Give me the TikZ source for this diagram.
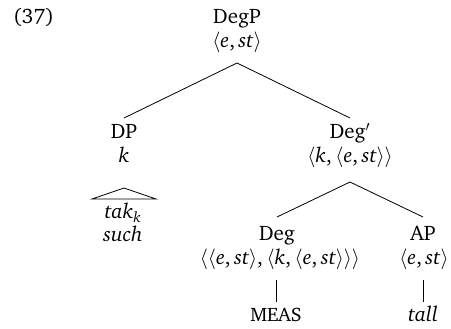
\documentclass[tikz,border=0pt]{standalone}
\usepackage[T1]{fontenc}
\usepackage{charter}
\newcommand\la{$\langle$}
\newcommand\ra{$\rangle$}
\begin{document}
\begin{tikzpicture}[x=1pt,y=-1pt,
  every node/.style={font=\fontsize{21}{25}\selectfont},
  lab/.style={anchor=base,inner sep=0pt},
  edge/.style={line width=0.8pt},
  meas/.style={lab,font=\fontsize{19.5}{23}\selectfont}]
\useasboundingbox (0,0) rectangle (451,329);
\node[anchor=base west,inner sep=0pt] (ex) at (13,24) {(37)};
\node[lab] (degp) at (237,24) {DegP};
\node[lab] (degpt) at (237,48) {\la\textit{e},\,\textit{st}\ra};
\node[lab] (dp) at (124,139) {DP};
\node[lab] (dpt) at (124,163) {\textit{k}};
\node[lab] (tak) at (123,219) {\textit{tak\textsubscript{k}}};
\node[lab] (such) at (123,242) {\textit{such}};
\node[lab] (degbar) at (350,139) {Deg$'$};
\node[lab] (degbart) at (350,163) {\la\textit{k},\,\la\textit{e},\,\textit{st}\ra\ra};
\node[lab] (deg) at (277,241) {Deg};
\node[lab] (degt) at (280,265) {\la\la\textit{e},\,\textit{st}\ra,\,\la\textit{k},\,\la\textit{e},\,\textit{st}\ra\ra\ra};
\node[lab] (ap) at (423,241) {AP};
\node[lab] (apt) at (424,265) {\la\textit{e},\,\textit{st}\ra};
\node[meas] (meas) at (276,322) {MEAS};
\node[lab] (tall) at (423,322) {\textit{tall}};
\draw[edge] ([yshift=21pt]dp.base) -- ([yshift=-15pt]degpt.base) -- ([yshift=21pt]degbar.base);
\draw[edge] ([yshift=24pt]deg.base) -- ([yshift=-19pt]degbart.base) -- ([yshift=24pt]ap.base);
\draw[edge] ([yshift=-25pt]dpt.base) -- ([xshift=-32pt,yshift=-36pt]dpt.base) -- ([xshift=32pt,yshift=-36pt]dpt.base) -- cycle;
\draw[edge] (meas.base |- degt.base) ++(0,15) -- ([yshift=20pt]meas.base);
\draw[edge] (tall.base |- apt.base) ++(0,15) -- ([yshift=20pt]tall.base);
\end{tikzpicture}
\end{document}
